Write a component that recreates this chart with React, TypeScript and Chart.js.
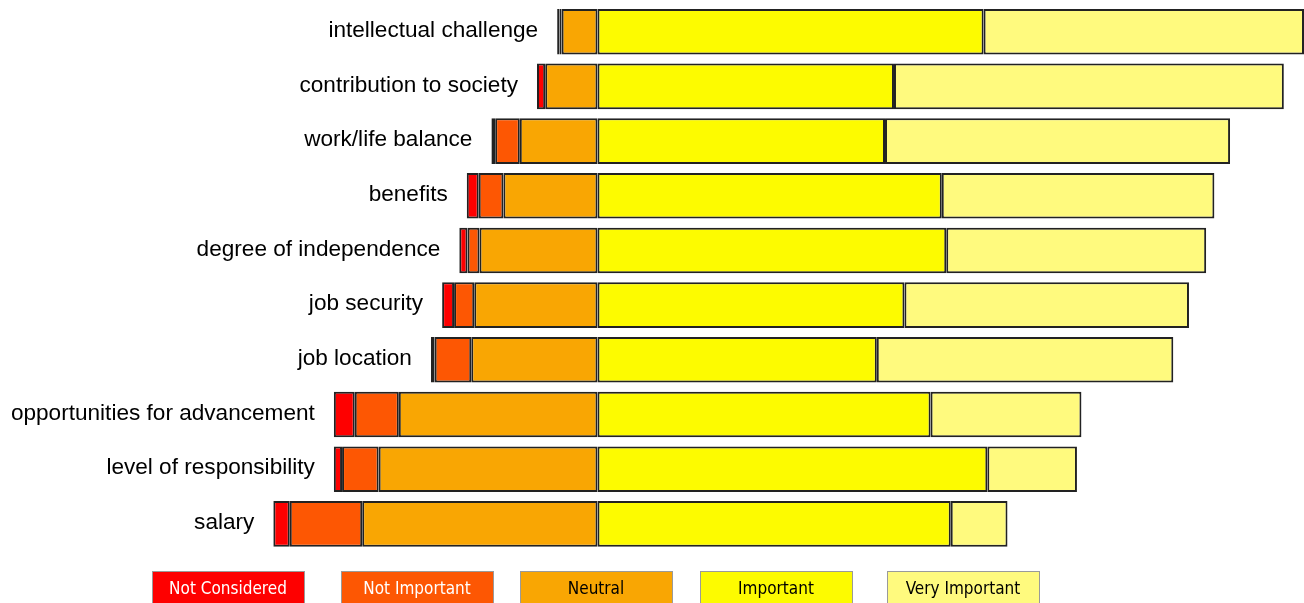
import React, { useEffect, useRef } from "react";
import { Chart, registerables } from "chart.js";

Chart.register(...registerables);

const categories = [
  "intellectual challenge",
  "contribution to society",
  "work/life balance",
  "benefits",
  "degree of independence",
  "job security",
  "job location",
  "opportunities for advancement",
  "level of responsibility",
  "salary",
];
const seriesNames = ["Not Considered", "Not Important", "Neutral", "Important", "Very Important"];
const notConsidered = [0.3, 1.1, 0.5, 1.6, 1.1, 1.6, 0.5, 2.8, 1.1, 2.2];
const notImportant = [0.3, 0, 3.3, 3.3, 1.6, 2.7, 4.9, 5.9, 4.9, 9.7];
const neutral = [4.8, 7.0, 10.4, 12.6, 15.8, 16.5, 16.9, 26.6, 29.3, 31.5];
const important = [51.7, 39.7, 38.5, 46.1, 46.7, 41.1, 37.4, 44.6, 52.2, 47.3];
const veryImportant = [42.9, 52.2, 46.2, 36.5, 34.8, 38.1, 39.7, 20.2, 12.0, 7.6];

const colors = ["#FE0000", "#FD5703", "#F9A603", "#FDFB00", "#FFFA7E"];
const legendTextColors = ["#FFFFFF", "#FFFFFF", "#000000", "#000000", "#000000"];
const legendX = [152, 341, 520, 700, 887];

const labelPlugin = {
  id: "sideLabels",
  afterDatasetsDraw(chart: any) {
    const ctx = chart.ctx;
    const xs = chart.scales.x;
    const ys = chart.scales.y;
    ctx.save();
    ctx.font = "22.6px 'Liberation Sans', Arial, sans-serif";
    ctx.fillStyle = "#000";
    ctx.textAlign = "right";
    ctx.textBaseline = "middle";
    categories.forEach((c, i) => {
      const left = xs.getPixelForValue(-(notConsidered[i] + notImportant[i] + neutral[i]));
      const y = ys.getPixelForValue(i);
      ctx.fillText(c, left - 19, y - 1);
    });
    ctx.restore();
  },
};

const legendPlugin = {
  id: "boxLegend",
  afterDraw(chart: any) {
    const ctx = chart.ctx;
    ctx.save();
    ctx.font = "17px 'Liberation Sans Narrow', 'DejaVu Sans Condensed', sans-serif";
    ctx.textAlign = "center";
    ctx.textBaseline = "middle";
    seriesNames.forEach((name, i) => {
      const x = legendX[i];
      const y = 571;
      const w = 152;
      const h = 36;
      ctx.fillStyle = colors[i];
      ctx.fillRect(x, y, w, h);
      ctx.strokeStyle = "#9a9a9a";
      ctx.lineWidth = 1;
      ctx.strokeRect(x + 0.5, y + 0.5, w, h);
      ctx.fillStyle = legendTextColors[i];
      ctx.fillText(name, x + w / 2, y + 18.5);
    });
    ctx.restore();
  },
};

export default function App() {
  const ref = useRef<HTMLCanvasElement>(null);
  useEffect(() => {
    document.body.style.margin = "0";
    const series = [
      { name: seriesNames[2], data: neutral.map((v) => -v), color: colors[2] },
      { name: seriesNames[1], data: notImportant.map((v) => -v), color: colors[1] },
      { name: seriesNames[0], data: notConsidered.map((v) => -v), color: colors[0] },
      { name: seriesNames[3], data: important, color: colors[3] },
      { name: seriesNames[4], data: veryImportant, color: colors[4] },
    ];
    const chart = new Chart(ref.current as HTMLCanvasElement, {
      type: "bar",
      data: {
        labels: categories,
        datasets: series.map((s) => ({
          label: s.name,
          data: s.data,
          backgroundColor: s.color,
          borderColor: "#222222",
          borderWidth: 2,
          borderSkipped: false,
          categoryPercentage: 1,
          barPercentage: 0.834,
        })),
      },
      options: {
        indexAxis: "y",
        animation: false,
        responsive: false,
        maintainAspectRatio: false,
        layout: { padding: { top: 4.4, bottom: 51.8, left: 0, right: 0 } },
        plugins: { legend: { display: false }, tooltip: { enabled: false } },
        scales: {
          x: { stacked: true, display: false, min: -80, max: 94.6 },
          y: { stacked: true, display: false },
        },
      },
      plugins: [labelPlugin, legendPlugin],
    } as any);
    return () => chart.destroy();
  }, []);
  return (
    <div style={{ position: "absolute", left: 0, top: 0, width: 1304, height: 603 }}>
      <canvas ref={ref} width={1304} height={603} style={{ width: 1304, height: 603 }} />
    </div>
  );
}
